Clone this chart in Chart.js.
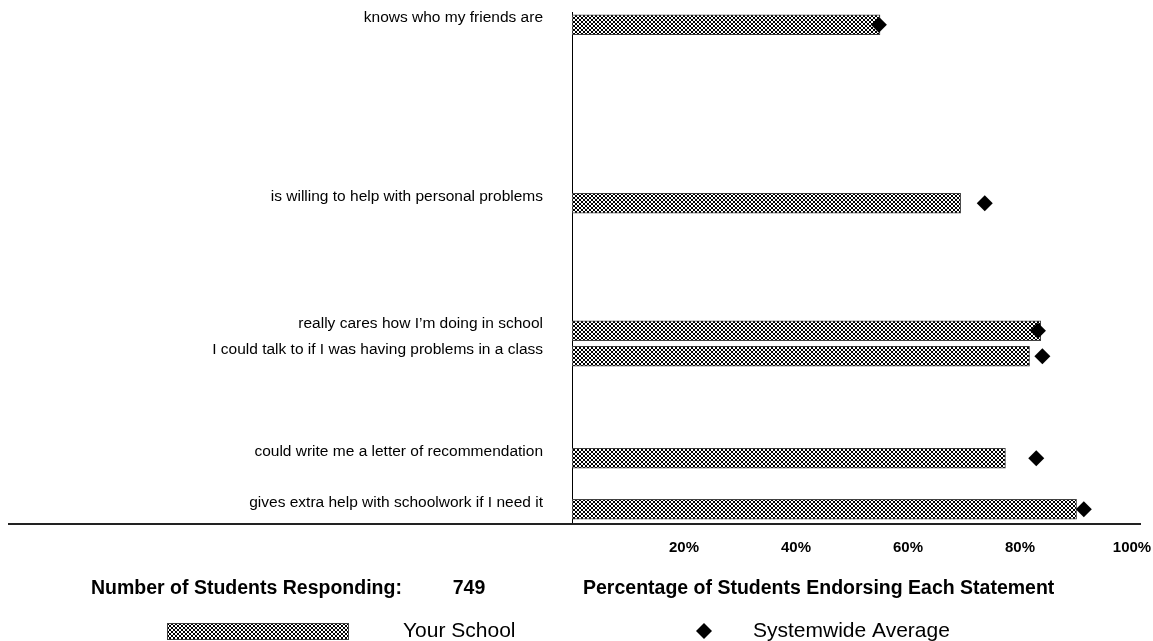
<!DOCTYPE html>
<html>
<head>
<meta charset="utf-8">
<script src="https://cdn.jsdelivr.net/npm/chart.js@4"></script>
<style>
  html, body { margin: 0; padding: 0; background: #fff; }
  #wrap { width: 1153px; height: 641px; }
</style>
</head>
<body>
<div id="wrap"><canvas id="chart"></canvas></div>
<script>
// statements, blank slots keep the original spacing between rows
const statements = [
  'knows who my friends are', '', '', '', '', '', '',
  'is willing to help with personal problems', '', '', '', '',
  'really cares how I\u2019m doing in school',
  'I could talk to if I was having problems in a class', '', '', '',
  'could write me a letter of recommendation', '',
  'gives extra help with schoolwork if I need it'
];
const yourSchool = [55.0, null, null, null, null, null, null,
  69.4, null, null, null, null,
  83.7, 81.7, null, null, null,
  77.4, null,
  90.1];
const systemwide = [54.8, null, null, null, null, null, null,
  73.7, null, null, null, null,
  83.2, 84.0, null, null, null,
  82.9, null,
  91.4];
const xTicks = [20, 40, 60, 80, 100];
const respondents = 749;

const canvas = document.getElementById('chart');
const ctx = canvas.getContext('2d');

// crosshatch fill like the original
function makeHatch() {
  const c = document.createElement('canvas');
  c.width = 4; c.height = 4;
  const g = c.getContext('2d');
  g.fillStyle = '#fff';
  g.fillRect(0, 0, 4, 4);
  g.fillStyle = '#000';
  for (let i = 0; i < 4; i++) {
    g.fillRect(i, i, 1, 1);
    g.fillRect(3 - i, i, 1, 1);
  }
  return ctx.createPattern(c, 'repeat');
}
const hatch = makeHatch();

const extras = {
  id: 'extras',
  afterDraw(chart) {
    const c = chart.ctx;
    const area = chart.chartArea;
    c.save();
    // long base line under the labels
    c.strokeStyle = '#222';
    c.lineWidth = 2;
    c.beginPath();
    c.moveTo(8, area.bottom + 2);
    c.lineTo(1141, area.bottom + 2);
    c.stroke();

    c.fillStyle = '#000';
    c.textBaseline = 'middle';
    c.font = 'bold 19.5px "Liberation Sans", Arial, sans-serif';
    c.textAlign = 'left';
    c.fillText('Number of Students Responding:', 91, 589);
    c.textAlign = 'center';
    c.fillText(String(respondents), 469, 589);
    c.textAlign = 'left';
    c.fillText('Percentage of Students Endorsing Each Statement', 583, 589);

    // legend
    c.fillStyle = hatch;
    c.fillRect(167, 623, 182, 17);
    c.strokeStyle = '#404040';
    c.lineWidth = 1;
    c.strokeRect(167.5, 623.5, 181, 16);
    c.fillStyle = '#000';
    c.font = '21px "Liberation Sans", Arial, sans-serif';
    c.fillText('Your School', 403, 631);
    c.beginPath();
    c.moveTo(704, 623); c.lineTo(712, 631); c.lineTo(704, 639); c.lineTo(696, 631);
    c.closePath();
    c.fill();
    c.fillText('Systemwide Average', 753, 631);
    c.restore();
  }
};

new Chart(ctx, {
  data: {
    labels: statements,
    datasets: [{
      type: 'bar',
      label: 'Your School',
      data: yourSchool,
      backgroundColor: hatch,
      borderColor: '#404040',
      borderWidth: 1,
      borderSkipped: false,
      barThickness: 20,
      order: 2
    }, {
      type: 'line',
      label: 'Systemwide Average',
      data: systemwide,
      showLine: false,
      pointStyle: 'rectRot',
      pointRadius: 8,
      pointHoverRadius: 8,
      pointBackgroundColor: '#000',
      pointBorderColor: '#000',
      pointBorderWidth: 0,
      order: 1
    }]
  },
  options: {
    indexAxis: 'y',
    responsive: true,
    maintainAspectRatio: false,
    animation: false,
    layout: { padding: { left: 0, right: 21, top: 12, bottom: 79 } },
    plugins: {
      legend: { display: false },
      tooltip: { enabled: false }
    },
    scales: {
      x: {
        type: 'linear',
        min: 0,
        max: 100,
        afterBuildTicks: s => { s.ticks = [0].concat(xTicks).map(v => ({ value: v })); },
        afterFit: s => {
          s.height = 40;
          s.paddingLeft = 0;
          s.paddingRight = 0;
        },
        grid: { display: false, drawTicks: false },
        border: { display: false },
        ticks: {
          padding: 17,
          color: '#000',
          font: { family: '"Liberation Sans", Arial, sans-serif', size: 15, weight: 'bold' },
          callback: v => (v === 0 ? '' : v + '%')
        }
      },
      y: {
        type: 'category',
        afterFit: s => {
          s.width = 572;
          s.paddingTop = 0;
          s.paddingBottom = 0;
        },
        grid: { display: false, drawTicks: false },
        border: { display: true, color: '#000', width: 1 },
        ticks: {
          autoSkip: false,
          padding: 29,
          labelOffset: -7,
          color: '#000',
          font: { family: '"Liberation Sans", Arial, sans-serif', size: 15.5 }
        }
      }
    }
  },
  plugins: [extras]
});
</script>
</body>
</html>
